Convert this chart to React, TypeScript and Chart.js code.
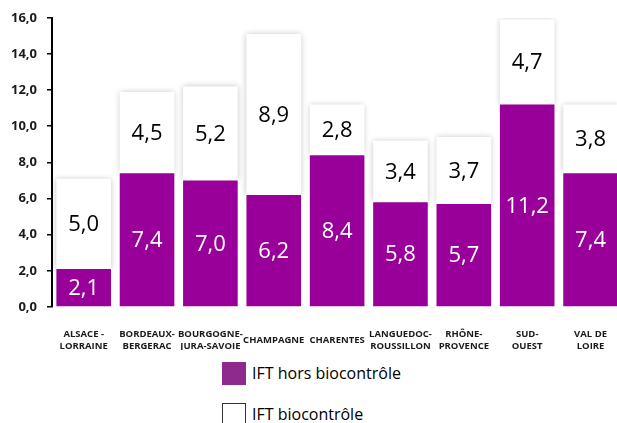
import React, { useEffect, useRef } from "react";
import { Chart, registerables } from "chart.js";

Chart.register(...registerables);

const categories: string[][] = [
  ["ALSACE -", "LORRAINE"],
  ["BORDEAUX-", "BERGERAC"],
  ["BOURGOGNE-", "JURA-SAVOIE"],
  ["CHAMPAGNE"],
  ["CHARENTES"],
  ["LANGUEDOC-", "ROUSSILLON"],
  ["RHÔNE-", "PROVENCE"],
  ["SUD-", "OUEST"],
  ["VAL DE", "LOIRE"],
];
const horsBiocontrole = [2.1, 7.4, 7.0, 6.2, 8.4, 5.8, 5.7, 11.2, 7.4];
const biocontrole = [5.0, 4.5, 5.2, 8.9, 2.8, 3.4, 3.7, 4.7, 3.8];
const seriesNames = ["IFT hors biocontrôle", "IFT biocontrôle"];
const yTicks = { min: 0, max: 16, step: 2 };

const PURPLE = "#990099";
const LEGEND_PURPLE = "#8e2a8e";
const FONT = "'Open Sans', 'DejaVu Sans', sans-serif";

const fmt = (v: number) => v.toFixed(1).replace(".", ",");

const shadowPlugin = {
  id: "whiteShadow",
  beforeDatasetDraw(chart: any, args: any) {
    if (args.index !== 1) return;
    const ctx = chart.ctx;
    ctx.save();
    ctx.beginPath();
    ctx.rect(0, 0, chart.width, chart.height);
    const meta0 = chart.getDatasetMeta(0);
    meta0.data.forEach((el: any) => {
      const p = el.getProps(["x", "y", "base", "width"], true);
      ctx.rect(p.x - p.width / 2 - 1, p.y, p.width + 2, p.base - p.y + 5);
    });
    ctx.clip("evenodd");
    ctx.shadowColor = "rgba(0,0,0,0.22)";
    ctx.shadowBlur = 6;
    ctx.shadowOffsetX = 0;
    ctx.shadowOffsetY = 0;
  },
  afterDatasetDraw(chart: any, args: any) {
    if (args.index !== 1) return;
    chart.ctx.restore();
  },
};

const valueLabelPlugin = {
  id: "valueLabels",
  afterDatasetsDraw(chart: any) {
    const ctx = chart.ctx;
    ctx.save();
    ctx.font = `22px ${FONT}`;
    ctx.textAlign = "center";
    ctx.textBaseline = "middle";
    chart.data.datasets.forEach((ds: any, di: number) => {
      const meta = chart.getDatasetMeta(di);
      meta.data.forEach((el: any, i: number) => {
        const p = el.getProps(["x", "y", "base"], true);
        ctx.fillStyle = di === 0 ? "#ffffff" : "#000000";
        ctx.fillText(fmt(ds.data[i]), p.x, (p.y + p.base) / 2 + 1);
      });
    });
    ctx.restore();
  },
};

export default function App() {
  const ref = useRef<HTMLCanvasElement | null>(null);

  useEffect(() => {
    if (!ref.current) return;
    const chart = new Chart(ref.current, {
      type: "bar",
      data: {
        labels: categories as any,
        datasets: [
          {
            label: seriesNames[0],
            data: horsBiocontrole,
            backgroundColor: PURPLE,
            borderWidth: 0,
            barPercentage: 1,
            categoryPercentage: 0.862,
          },
          {
            label: seriesNames[1],
            data: biocontrole,
            backgroundColor: "#ffffff",
            borderWidth: 0,
            barPercentage: 1,
            categoryPercentage: 0.862,
          },
        ],
      },
      options: {
        responsive: false,
        animation: false,
        layout: { padding: { top: 13, left: 0, right: 0, bottom: 0 } },
        plugins: {
          legend: { display: false },
          tooltip: { enabled: false },
        },
        scales: {
          x: {
            stacked: true,
            grid: { display: false },
            border: { display: false },
            ticks: {
              color: "#1a1a1a",
              font: { family: FONT, size: 9.5, weight: "bold", lineHeight: 1.3 },
              padding: 19,
              crossAlign: "center",
              maxRotation: 0,
              autoSkip: false,
            },
            afterFit(scale: any) {
              scale.height = 43;
            },
          },
          y: {
            stacked: true,
            min: yTicks.min,
            max: yTicks.max,
            grid: {
              display: true,
              drawOnChartArea: false,
              drawTicks: true,
              tickLength: 5,
              color: "#000",
              lineWidth: 1.5,
            },
            border: { display: true, color: "#000", width: 2 },
            ticks: {
              stepSize: yTicks.step,
              color: "#1a1a1a",
              padding: 10,
              font: { family: FONT, size: 13, weight: "bold" },
              callback: (v: any) => fmt(Number(v)),
            },
            afterFit(scale: any) {
              scale.width = 52;
            },
          },
        },
      },
      plugins: [shadowPlugin, valueLabelPlugin],
    });
    return () => chart.destroy();
  }, []);

  const legendText: React.CSSProperties = {
    position: "absolute",
    left: 252,
    fontFamily: FONT,
    fontSize: 16,
    color: "#000",
    lineHeight: "20px",
    whiteSpace: "nowrap",
  };

  return (
    <div
      style={{
        position: "absolute",
        left: 0,
        top: 0,
        width: 617,
        height: 423,
        overflow: "hidden",
        background: "#fff",
      }}
    >
      <canvas
        ref={ref}
        width={626}
        height={350}
        style={{ position: "absolute", left: 0, top: 0, width: 626, height: 350 }}
      />
      <div
        style={{
          position: "absolute",
          left: 222,
          top: 362,
          width: 24,
          height: 23,
          background: LEGEND_PURPLE,
        }}
      />
      <div style={{ ...legendText, top: 363 }}>{seriesNames[0]}</div>
      <div
        style={{
          position: "absolute",
          left: 222,
          top: 403,
          width: 22,
          height: 22,
          background: "#fff",
          border: "1px solid #333",
        }}
      />
      <div style={{ ...legendText, top: 404 }}>{seriesNames[1]}</div>
    </div>
  );
}
